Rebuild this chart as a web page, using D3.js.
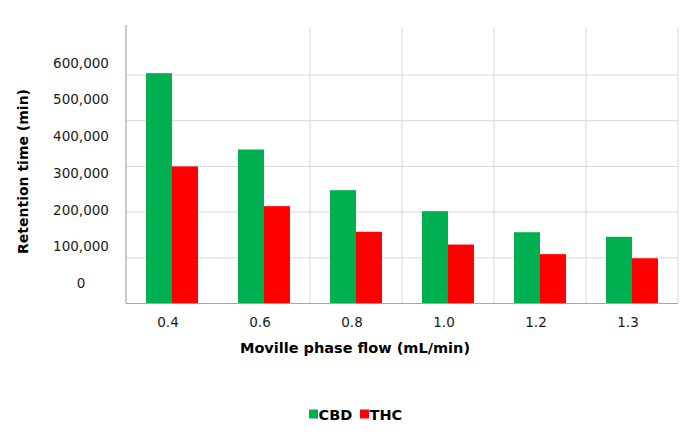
<!DOCTYPE html>
<html>
<head>
<meta charset="utf-8">
<script src="https://cdn.jsdelivr.net/npm/d3@7"></script>
<style>
  html, body { margin: 0; padding: 0; background: #fff; }
  svg { display: block; font-family: "DejaVu Sans", Verdana, sans-serif; }
</style>
</head>
<body>
<svg id="chart" width="695" height="434"></svg>
<script>
const categories = ["0.4", "0.6", "0.8", "1.0", "1.2", "1.3"];
const seriesNames = ["CBD", "THC"];
const cbdValues = [504000, 337000, 248000, 202000, 156000, 146000];
const thcValues = [300000, 213000, 157000, 129000, 108000, 99000];
const yTickLabels = [0, 100000, 200000, 300000, 400000, 500000, 600000];
const gridValues = [100000, 200000, 300000, 400000, 500000];
const colors = { CBD: "#00B050", THC: "#FF0000" };

(function () {
const svg = d3.select("#chart");
const plotLeft = 126, plotRight = 678, plotBottom = 303.5, plotTop = 29.3;

const x0 = d3.scaleBand().domain(categories).range([plotLeft, plotRight]).padding(0);
const x1 = d3.scaleBand().domain(seriesNames).range([0, x0.bandwidth()])
  .paddingInner(0).paddingOuter(0.77);
const y = d3.scaleLinear().domain([0, 600000]).range([plotBottom, plotTop]);
// labels in the reference sit on their own spacing
const yLabel = d3.scaleLinear().domain([0, 600000]).range([283.3, 62.7]);

// horizontal gridlines
svg.append("g").selectAll("line").data(gridValues).join("line")
  .attr("x1", plotLeft).attr("x2", plotRight)
  .attr("y1", d => y(d)).attr("y2", d => y(d))
  .attr("stroke", "#D9D9D9").attr("stroke-width", 1);

// vertical gridlines
svg.append("g").selectAll("line").data(categories.slice(1)).join("line")
  .attr("x1", d => x0(d) + x0.bandwidth()).attr("x2", d => x0(d) + x0.bandwidth())
  .attr("y1", 28).attr("y2", plotBottom)
  .attr("stroke", "#D9D9D9").attr("stroke-width", 1);

// bars
const data = categories.map((c, i) => ({ cat: c, CBD: cbdValues[i], THC: thcValues[i] }));
const groups = svg.append("g").selectAll("g").data(data).join("g")
  .attr("transform", d => `translate(${x0(d.cat)},0)`);
groups.selectAll("rect").data(d => seriesNames.map(s => ({ s, v: d[s] }))).join("rect")
  .attr("x", d => x1(d.s)).attr("width", x1.bandwidth())
  .attr("y", d => y(d.v)).attr("height", d => y(0) - y(d.v))
  .attr("fill", d => colors[d.s]);

// axis lines
svg.append("line").attr("x1", plotLeft).attr("x2", plotLeft).attr("y1", 25).attr("y2", plotBottom)
  .attr("stroke", "#A6A6A6").attr("stroke-width", 1.2);
svg.append("line").attr("x1", plotLeft).attr("x2", plotRight).attr("y1", plotBottom).attr("y2", plotBottom)
  .attr("stroke", "#A6A6A6").attr("stroke-width", 1.2);

// y tick labels
const yAxis = svg.append("g").attr("transform", "translate(81,0)")
  .call(d3.axisLeft(yLabel).tickValues(yTickLabels).tickSize(0).tickPadding(0)
    .tickFormat(d3.format(",")));
yAxis.select(".domain").remove();
yAxis.selectAll("text").attr("text-anchor", "middle")
  .style("font-family", "DejaVu Sans, sans-serif").style("font-size", "13.5px").attr("fill", "#1a1a1a");

// x tick labels
const xAxis = svg.append("g").attr("transform", `translate(-4,${plotBottom})`)
  .call(d3.axisBottom(x0).tickSize(0).tickPadding(14));
xAxis.select(".domain").remove();
xAxis.selectAll("text").style("font-family", "DejaVu Sans, sans-serif")
  .style("font-size", "13.5px").attr("fill", "#1a1a1a");

// axis titles
svg.append("text").attr("x", 355).attr("y", 353).attr("text-anchor", "middle")
  .style("font-size", "14.5px").style("font-weight", "bold").attr("fill", "#000")
  .text("Moville phase flow (mL/min)");
svg.append("text").attr("transform", "translate(28,171.5) rotate(-90)").attr("text-anchor", "middle")
  .style("font-size", "14px").style("font-weight", "bold").attr("fill", "#000")
  .text("Retention time (min)");

// legend
const legendItems = [
  { s: "CBD", x: 309 },
  { s: "THC", x: 360 }
];
const lg = svg.append("g").selectAll("g").data(legendItems).join("g")
  .attr("transform", d => `translate(${d.x},414)`);
lg.append("rect").attr("x", 0).attr("y", -4.5).attr("width", 9).attr("height", 9)
  .attr("fill", d => colors[d.s]);
lg.append("text").attr("x", 9.5).attr("y", 5.5)
  .style("font-size", "14.5px").style("font-weight", "bold").attr("fill", "#000")
  .text(d => d.s);
})();
</script>
</body>
</html>
